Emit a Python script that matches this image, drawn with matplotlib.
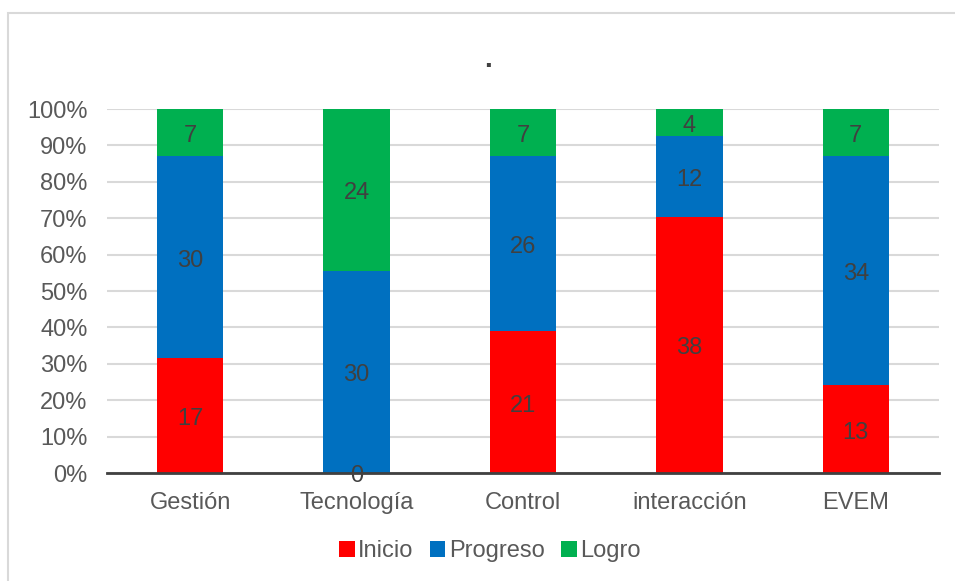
import numpy as np
import matplotlib
matplotlib.use("Agg")
import matplotlib.pyplot as plt
from matplotlib.patches import Rectangle

# data
categories = ["Gestión", "Tecnología", "Control", "interacción", "EVEM"]
inicio = [17, 0, 21, 38, 13]
progreso = [30, 30, 26, 12, 34]
logro = [7, 24, 7, 4, 7]

series = [("Inicio", inicio, "#ff0000"),
          ("Progreso", progreso, "#0070c0"),
          ("Logro", logro, "#00b050")]

plt.rcParams["font.family"] = ["Liberation Sans", "DejaVu Sans"]
FS = 17

W, H = 955, 581
fig = plt.figure(figsize=(W / 100, H / 100), dpi=100)

# outer chart border (cut by the screenshot on right and bottom)
fig.patches.append(Rectangle((8 / W, -0.1), 1.2, 1 - 13 / H + 0.1,
                             transform=fig.transFigure, fill=False,
                             edgecolor="#d9d9d9", linewidth=1.5, zorder=0))

ax = fig.add_axes([107 / W, 1 - 473 / H, (939 - 107) / W, (473 - 109) / H])

totals = np.array(inicio) + np.array(progreso) + np.array(logro)
x = np.arange(len(categories))
bottom = np.zeros(len(categories))
for name, vals, color in series:
    frac = np.array(vals) / totals
    bars = ax.bar(x, frac, width=0.4, bottom=bottom, color=color,
                  label=name, zorder=3)
    texts = ax.bar_label(bars, labels=[str(v) for v in vals], label_type="center",
                         color="#404040", fontsize=FS, zorder=4)
    for t in texts:
        t.xyann = (0, -2.5)
    bottom += frac

ax.set_xlim(-0.5, len(categories) - 0.5)
ax.set_ylim(0, 1)
ax.set_yticks(np.arange(0, 1.01, 0.1))
ax.set_yticklabels([f"{int(round(t * 100))}%" for t in np.arange(0, 1.01, 0.1)])
ax.set_xticks(x)
ax.set_xticklabels(categories)
ax.tick_params(axis="both", length=0, colors="#595959", labelsize=FS)
ax.tick_params(axis="y", pad=14)
ax.tick_params(axis="x", pad=14)

ax.grid(axis="y", color="#d9d9d9", linewidth=1.5, zorder=0)
ax.set_axisbelow(True)
for s in ["top", "right", "left"]:
    ax.spines[s].set_visible(False)
ax.spines["bottom"].set_color("#404040")
ax.spines["bottom"].set_linewidth(2)
ax.spines["bottom"].set_zorder(5)

fig.text(488 / W, 1 - 60 / H, ".", ha="center", va="center",
         fontsize=20, fontweight="bold", color="#404040")

fig.legend(loc="center", bbox_to_anchor=(490 / W, 1 - 551 / H), ncol=3,
           frameon=False, fontsize=FS, handlelength=0.65, handleheight=0.65,
           handletextpad=0.15, columnspacing=0.7, labelcolor="#595959")

fig.savefig("out.png", dpi=100)
